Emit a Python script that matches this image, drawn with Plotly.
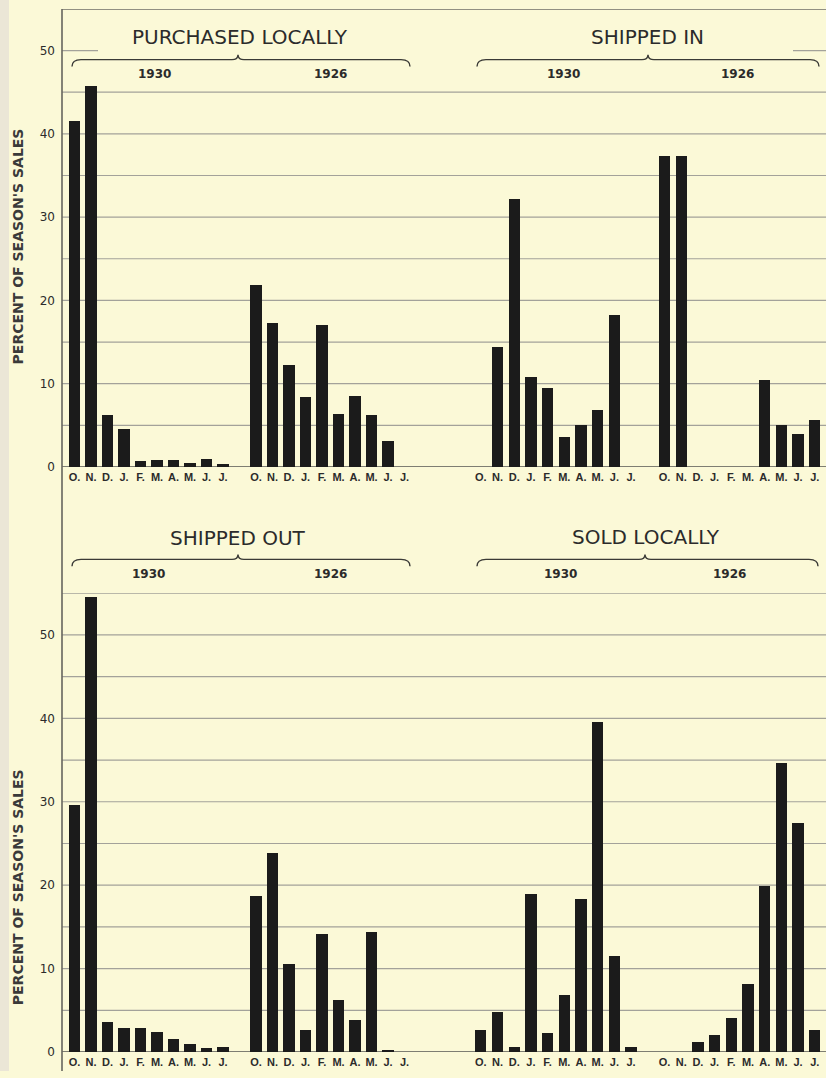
import plotly.graph_objects as go

# ---------------- data ----------------
months = ["O.", "N.", "D.", "J.", "F.", "M.", "A.", "M.", "J.", "J."]
years = ["1930", "1926"]
panel_titles = ["PURCHASED LOCALLY", "SHIPPED IN", "SHIPPED OUT", "SOLD LOCALLY"]
y_ticks = [0, 10, 20, 30, 40, 50]
y_title = "PERCENT OF SEASON'S SALES"

purchased_locally_1930 = [41.5, 45.7, 6.2, 4.6, 0.7, 0.8, 0.8, 0.5, 1.0, 0.4]
purchased_locally_1926 = [21.8, 17.3, 12.2, 8.4, 17.1, 6.4, 8.5, 6.2, 3.1, 0]
shipped_in_1930 = [0, 14.4, 32.2, 10.8, 9.5, 3.6, 5.0, 6.8, 18.3, 0]
shipped_in_1926 = [37.4, 37.3, 0, 0, 0, 0, 10.5, 5.0, 4.0, 5.6]
shipped_out_1930 = [29.6, 54.5, 3.6, 2.9, 2.9, 2.4, 1.5, 1.0, 0.5, 0.6]
shipped_out_1926 = [18.7, 23.8, 10.5, 2.6, 14.1, 6.2, 3.8, 14.4, 0.2, 0]
sold_locally_1930 = [2.6, 4.8, 0.6, 18.9, 2.3, 6.8, 18.3, 39.6, 11.5, 0.6]
sold_locally_1926 = [0, 0, 1.2, 2.0, 4.1, 8.1, 19.9, 34.6, 27.5, 2.6]

# ---------------- styling / layout ----------------
W, H = 826, 1078
BG = "#fbf9d7"
BAR = "#1b1b1b"
GRID = "#a3a29a"
INK = "#2b2b2b"


def px(x):
    return x / W


def py(y):
    return 1 - y / H


slots_1930 = list(range(len(months)))
slots_1926 = [i + len(months) + 1 for i in range(len(months))]
tickvals = slots_1930 + slots_1926
ticktext = months + months

panels = [
    ("x", "y", purchased_locally_1930, purchased_locally_1926),
    ("x2", "y2", shipped_in_1930, shipped_in_1926),
    ("x3", "y3", shipped_out_1930, shipped_out_1926),
    ("x4", "y4", sold_locally_1930, sold_locally_1926),
]

fig = go.Figure()
for xa, ya, v30, v26 in panels:
    for slots, vals in ((slots_1930, v30), (slots_1926, v26)):
        fig.add_trace(go.Bar(x=slots, y=vals, xaxis=xa, yaxis=ya,
                             marker=dict(color=BAR, line=dict(width=0)),
                             width=0.68, showlegend=False, hoverinfo="x+y"))

AXL = 62
left_dom = [px(AXL), px(440)]
right_dom = [px(440), 1.0]
left_range = [(AXL - 74.5) / 16.5, (440 - 74.5) / 16.5]
right_range = [(440 - 480.8) / 16.7, (W - 480.8) / 16.7]

top_dom = [py(470), py(9)]
bot_dom = [py(1059), py(597)]
yr = [0, 55]

xcommon = dict(showgrid=False, zeroline=False, showline=False, ticks="",
               tickmode="array", tickvals=tickvals, ticktext=ticktext,
               tickfont=dict(family="Liberation Sans", size=11, color=INK,
                             weight="bold"),
               ticklabelstandoff=2, tickangle=0, fixedrange=True)
ycommon = dict(range=yr, showgrid=False, zeroline=False, showline=False,
               ticks="", tickmode="array", tickvals=y_ticks,
               tickfont=dict(family="DejaVu Sans", size=12, color=INK),
               fixedrange=True)

fig.update_layout(
    width=W, height=H,
    margin=dict(l=0, r=0, t=0, b=0),
    paper_bgcolor=BG, plot_bgcolor="rgba(0,0,0,0)",
    bargap=0,
    xaxis=dict(domain=left_dom, range=left_range, anchor="y", **xcommon),
    xaxis2=dict(domain=right_dom, range=right_range, anchor="y2", **xcommon),
    xaxis3=dict(domain=left_dom, range=left_range, anchor="y3", **xcommon),
    xaxis4=dict(domain=right_dom, range=right_range, anchor="y4", **xcommon),
    yaxis=dict(domain=top_dom, anchor="x", ticklabelstandoff=6, **ycommon),
    yaxis2=dict(domain=top_dom, anchor="x2", showticklabels=False, **ycommon),
    yaxis3=dict(domain=bot_dom, anchor="x3", ticklabelstandoff=6, **ycommon),
    yaxis4=dict(domain=bot_dom, anchor="x4", showticklabels=False, **ycommon),
)

shapes = []
# paper edge strip at left
shapes.append(dict(type="rect", xref="paper", yref="paper", x0=0, x1=px(9),
                   y0=0, y1=1, fillcolor="#ebe6d6", line=dict(width=0),
                   layer="below"))


def hline(yref, val, x0, x1, color=GRID, width=1.2):
    shapes.append(dict(type="line", xref="paper", yref=yref, x0=px(x0),
                       x1=px(x1), y0=val, y1=val,
                       line=dict(color=color, width=width), layer="below"))


# top row gridlines
for v in [5, 10, 15, 20, 25, 30, 35, 40, 45]:
    hline("y", v, AXL, W)
hline("y", 0, AXL, W, color="#555550", width=1.6)
hline("y", 55, AXL, W, color="#6e6d66", width=1.6)
hline("y", 50, AXL, 98)
hline("y", 50, 793, W)
# bottom row gridlines
for v in [5, 10, 15, 20, 25, 30, 35, 40, 45, 50, 55]:
    hline("y3", v, AXL, W)
hline("y3", 0, AXL, W, color="#555550", width=1.6)

# left vertical axis line
shapes.append(dict(type="line", xref="paper", yref="paper", x0=px(AXL),
                   x1=px(AXL), y0=0, y1=py(9),
                   line=dict(color="#66655e", width=1.6), layer="below"))


def brace(x1, x2, xc, y):
    pts = [(x1, y + 7), (x1, y), (x1 + 9, y), (xc - 6, y), (xc, y),
           (xc, y - 5), (xc, y), (xc + 6, y), (x2 - 9, y), (x2, y), (x2, y + 7)]
    p = [(px(a), py(b)) for a, b in pts]
    path = (f"M {p[0][0]},{p[0][1]} Q {p[1][0]},{p[1][1]} {p[2][0]},{p[2][1]} "
            f"L {p[3][0]},{p[3][1]} Q {p[4][0]},{p[4][1]} {p[5][0]},{p[5][1]} "
            f"Q {p[6][0]},{p[6][1]} {p[7][0]},{p[7][1]} "
            f"L {p[8][0]},{p[8][1]} Q {p[9][0]},{p[9][1]} {p[10][0]},{p[10][1]}")
    shapes.append(dict(type="path", xref="paper", yref="paper", path=path,
                       line=dict(color="#3a3a36", width=1.4)))


# header geometry: (title x, title y, brace x1, x2, xc, brace y, 1930 x, 1926 x, year y)
headers = [
    (240, 37, 72, 410, 238, 60, 154, 330, 74),
    (647, 37, 477, 819, 648, 60, 563, 737, 74),
    (238, 542, 72, 410, 238, 563, 148, 330, 578),
    (646, 541, 477, 818, 645, 563, 560, 729, 578),
]

annotations = []
for title, (tx, ty, b1, b2, bc, by, y30x, y26x, yy) in zip(panel_titles, headers):
    brace(b1, b2, bc, by)
    annotations.append(dict(text=title, xref="paper", yref="paper", x=px(tx),
                            y=py(ty), xanchor="center", yanchor="middle",
                            showarrow=False,
                            font=dict(family="DejaVu Sans", size=20, color=INK)))
    for yrtxt, yx in zip(years, (y30x, y26x)):
        annotations.append(dict(text=yrtxt, xref="paper", yref="paper",
                                x=px(yx), y=py(yy), xanchor="center",
                                yanchor="middle", showarrow=False,
                                font=dict(family="DejaVu Sans", size=12,
                                          color=INK, weight="bold")))

for cy in (248, 893):
    annotations.append(dict(text=y_title, xref="paper", yref="paper",
                            x=px(18), y=py(cy), xanchor="center",
                            yanchor="middle", textangle=-90, showarrow=False,
                            font=dict(family="DejaVu Sans", size=14,
                                      color="#3a3a3a", weight="bold")))

fig.update_layout(shapes=shapes, annotations=annotations)
fig.write_html(
    "out.html",
    config={"displayModeBar": False},
    post_script="document.body.style.margin='0';"
                "document.body.style.overflow='hidden';",
)
